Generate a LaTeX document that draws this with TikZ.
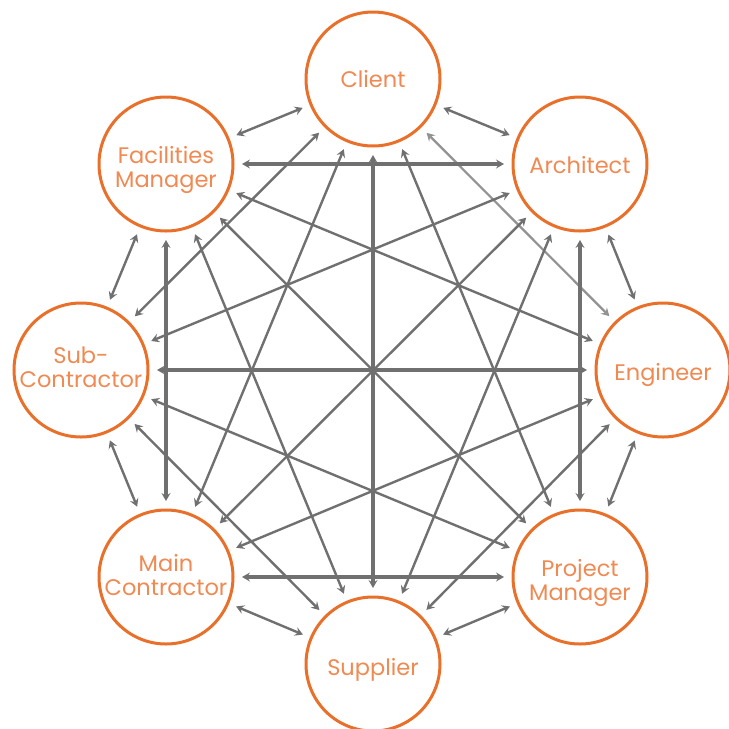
\documentclass[tikz,border=0pt]{standalone}
\usepackage{fontspec}
\setmainfont{Poppins}
\usetikzlibrary{arrows.meta}
\definecolor{ring}{HTML}{E8702A}
\definecolor{label}{HTML}{F08A52}
\definecolor{link}{HTML}{707070}
\definecolor{linklight}{HTML}{929292}
\begin{document}
\begin{tikzpicture}[x=1pt,y=-1pt,
  role/.style={circle,draw=ring,line width=3pt,fill=white,minimum size=134pt,inner sep=0pt},
  tag/.style={text=label,align=center,inner sep=0pt,font=\fontsize{22.5}{24}\selectfont},
  link/.style={draw=link,line width=2.4pt,
    {Stealth[length=8pt,width=9pt,inset=3pt]}-{Stealth[length=8pt,width=9pt,inset=3pt]},
    shorten <=7.5pt,shorten >=7.5pt},
  thick link/.style={link,line width=3.5pt},
  light link/.style={link,draw=linklight,line width=2.2pt}]
\useasboundingbox (0,0) rectangle (729,729);
% the eight project roles, placed round an octagon
\node[role,label={[tag]center:Client}] (cl) at (373,79) {};
\node[role,label={[tag,yshift=-1pt]center:Architect}] (ar) at (580,164) {};
\node[role,label={[tag,yshift=-5pt]center:Engineer}] (en) at (663,370) {};
\node[role,label={[tag,yshift=-6pt]center:Project\\Manager}] (pm) at (580,577) {};
\node[role,label={[tag,yshift=-6pt]center:Supplier}] (su) at (373,664) {};
\node[role,label={[tag,yshift=2pt]center:Main\\Contractor}] (mc) at (166,577) {};
\node[role,label={[tag,yshift=3pt]center:Sub-\\Contractor}] (sc) at (81,370) {};
\node[role,label={[tag,yshift=-6pt]center:Facilities\\Manager}] (fm) at (166,164) {};
% every role is linked to every other role
\draw[link] (cl) -- (ar);
\draw[light link] (cl) -- (en);
\draw[link] (cl) -- (pm);
\draw[thick link] (cl) -- (su);
\draw[link] (cl) -- (mc);
\draw[link] (cl) -- (sc);
\draw[link] (cl) -- (fm);
\draw[link] (ar) -- (en);
\draw[thick link] (ar) -- (pm);
\draw[link] (ar) -- (su);
\draw[link] (ar) -- (mc);
\draw[link] (ar) -- (sc);
\draw[thick link] (ar) -- (fm);
\draw[link] (en) -- (pm);
\draw[link] (en) -- (su);
\draw[link] (en) -- (mc);
\draw[thick link] (en) -- (sc);
\draw[link] (en) -- (fm);
\draw[link] (pm) -- (su);
\draw[thick link] (pm) -- (mc);
\draw[link] (pm) -- (sc);
\draw[link] (pm) -- (fm);
\draw[link] (su) -- (mc);
\draw[link] (su) -- (sc);
\draw[link] (su) -- (fm);
\draw[link] (mc) -- (sc);
\draw[thick link] (mc) -- (fm);
\draw[link] (sc) -- (fm);
\end{tikzpicture}
\end{document}
